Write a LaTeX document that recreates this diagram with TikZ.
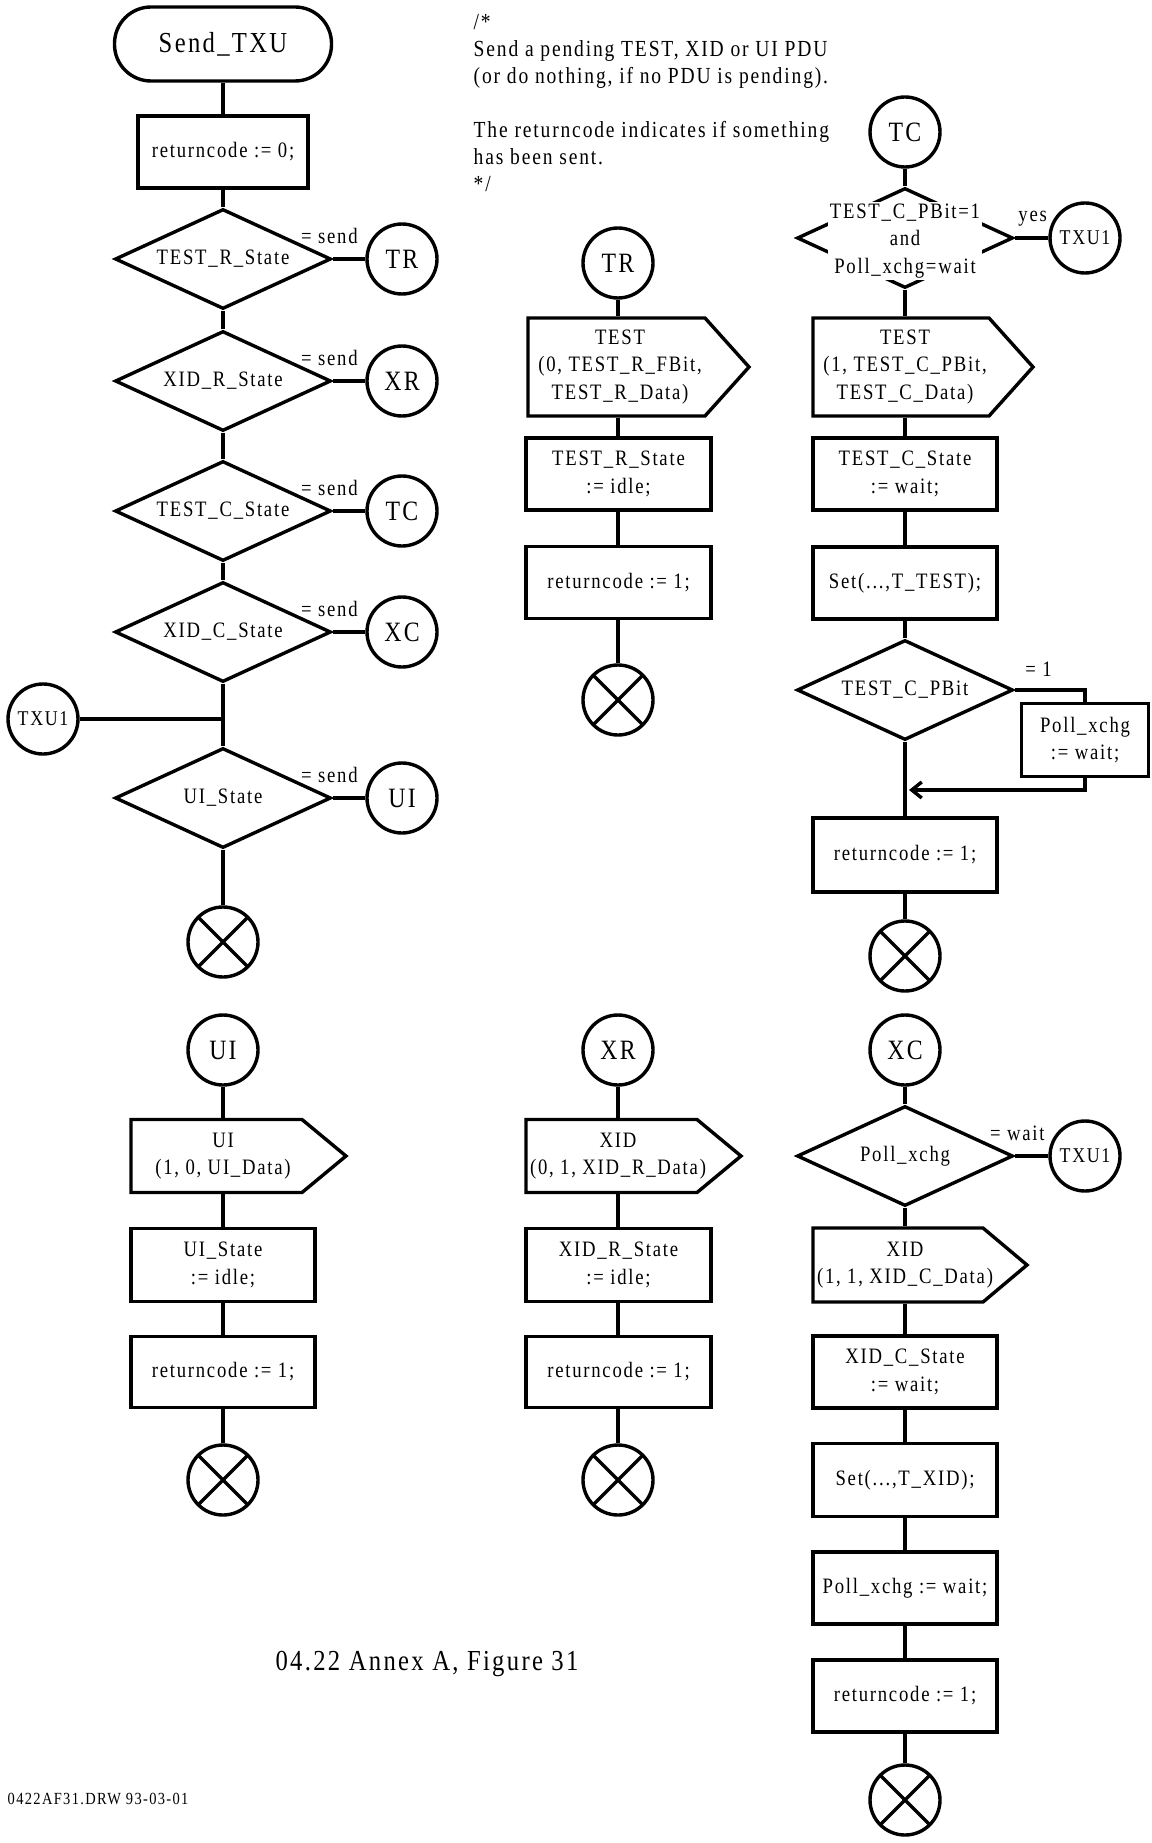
\documentclass[tikz,border=0pt]{standalone}
\usepackage{fontspec}
\setmainfont{Liberation Serif}[FakeStretch=0.85,LetterSpace=8]
\usetikzlibrary{shapes.geometric,arrows.meta}

\begin{document}
\begin{tikzpicture}[x=1pt, y=-1pt, line width=3.4pt,
    txt/.style={font=\fontsize{22}{27.5}\selectfont, align=center, inner sep=0pt},
    term/.style={txt, draw, rounded corners=36.5pt, minimum width=217pt, minimum height=74pt, font=\fontsize{29}{34}\selectfont},
    box/.style={txt, draw, minimum width=184pt, minimum height=72pt},
    decide/.style={txt, draw, diamond, aspect=2.16, minimum width=216pt, minimum height=100pt},
    conn/.style={txt, draw, circle, minimum size=70pt, font=\fontsize{28}{32}\selectfont},
    txu/.style={conn, font=\fontsize{21}{25}\selectfont},
    endsym/.style={draw, circle, minimum size=70pt, path picture={
        \draw (path picture bounding box.north west) -- (path picture bounding box.south east)
              (path picture bounding box.north east) -- (path picture bounding box.south west);}},
    sig/.style 2 args={txt, minimum height=#2, append after command={\pgfextra{
        \draw ([xshift=-92pt,yshift=#2/2]\tikzlastnode.center) -- ([xshift=#1,yshift=#2/2]\tikzlastnode.center)
           -- ([xshift=#1+44pt]\tikzlastnode.center) -- ([xshift=#1,yshift=-#2/2]\tikzlastnode.center)
           -- ([xshift=-92pt,yshift=-#2/2]\tikzlastnode.center) -- cycle;}}},
    lbl/.style={font=\fontsize{22}{26}\selectfont, inner sep=2pt},
    arr/.style={-{Straight Barb[length=10pt,width=16pt]}}
]
\useasboundingbox (0,0) rectangle (1151,1843);

% main routine Send_TXU
\node[term] (start) at (223,44) {Send\_TXU};
\node[box, minimum width=170pt] (rc0) at (223,152) {returncode := 0;};
\node[decide] (qtr) at (223,259) {TEST\_R\_State};
\node[decide] (qxr) at (223,381) {XID\_R\_State};
\node[decide] (qtc) at (223,511) {TEST\_C\_State};
\node[decide] (qxc) at (223,632) {XID\_C\_State};
\node[decide] (qui) at (223,798) {UI\_State};
\node[endsym] (end1) at (223,942) {};
\node[conn] (ctr1) at (402,259) {TR};
\node[conn] (cxr1) at (402,381) {XR};
\node[conn] (ctc1) at (402,511) {TC};
\node[conn] (cxc1) at (402,632) {XC};
\node[conn] (cui1) at (402,798) {UI};
\node[txu] (txu1a) at (43,719) {TXU1};

\draw (start) -- (rc0) (rc0) -- (qtr) (qtr) -- (qxr) (qxr) -- (qtc) (qtc) -- (qxc) (qxc) -- (qui) (qui) -- (end1);
\foreach \q/\c in {qtr/ctr1, qxr/cxr1, qtc/ctc1, qxc/cxc1, qui/cui1}
    \draw (\q.east) -- node[lbl, pos=0.88, anchor=south east, yshift=12pt] {= send} (\c);
\draw (txu1a) -- (txu1a -| end1);

\node[txt, align=left, anchor=north west, font=\fontsize{23}{27}\selectfont] (note) at (472,13)
    {/*\\Send a pending TEST, XID or UI PDU\\(or do nothing, if no PDU is pending).\\[27pt]The returncode indicates if something\\has been sent.\\*/};

% TR
\coordinate (colr) at (618,0);
\node[conn] (ctr2) at (618,263) {TR};
\node[sig={85pt}{98pt}] (outtr) at (620,367) {TEST\\(0, TEST\_R\_FBit,\\TEST\_R\_Data)};
\node[box, minimum width=185pt] (sttr) at (618.5,474) {TEST\_R\_State\\:= idle;};
\node[box, minimum width=185pt] (rctr) at (618.5,582.5) {returncode := 1;};
\node[endsym] (endtr) at (618,700) {};
\foreach \a/\b in {ctr2/outtr, outtr/sttr, sttr/rctr, rctr/endtr}
    \draw (colr |- \a.south) -- (colr |- \b.north);

% TC
\coordinate (colc) at (905,0);
\node[conn] (ctc2) at (905,132) {TC};
\node[decide] (qpoll) at (905,238) {};
\node[txt, fill=white, inner sep=2pt, font=\fontsize{22}{27.5}\selectfont] (qpolltxt) at (905,241)
    {TEST\_C\_PBit=1\\and\\Poll\_xchg=wait};
\node[txu] (txu1b) at (1085,238) {TXU1};
\node[sig={84pt}{98pt}] (outtc) at (905,367) {TEST\\(1, TEST\_C\_PBit,\\TEST\_C\_Data)};
\node[box] (sttc) at (905,474) {TEST\_C\_State\\:= wait;};
\node[box] (settc) at (905,583) {Set(...,T\_TEST);};
\node[decide] (qpbit) at (905,690) {TEST\_C\_PBit};
\node[box, minimum width=127pt, minimum height=73pt] (pxset) at (1085,740) {Poll\_xchg\\:= wait;};
\coordinate (jtc) at (909,790);
\node[box, minimum height=74pt] (rctc) at (905,855) {returncode := 1;};
\node[endsym] (endtc) at (905,956) {};
\foreach \a/\b in {ctc2/qpoll, qpoll/outtc, outtc/sttc, sttc/settc, settc/qpbit, qpbit/rctc, rctc/endtc}
    \draw (colc |- \a.south) -- (colc |- \b.north);
\draw (qpoll.east) -- node[lbl, pos=0, anchor=south west, yshift=8pt] {yes} (txu1b);
\draw (qpbit.east) -| node[lbl, pos=0.05, anchor=south west, yshift=10pt] {= 1} (pxset.north);
\draw[arr] (pxset.south) |- (jtc);

% UI
\coordinate (colu) at (223,0);
\node[conn] (cui2) at (223,1050) {UI};
\node[sig={79pt}{73pt}] (outui) at (223,1156) {UI\\(1, 0, UI\_Data)};
\node[box, minimum height=73pt] (stui) at (223,1265) {UI\_State\\:= idle;};
\node[box, minimum height=71pt] (rcui) at (223,1372) {returncode := 1;};
\node[endsym] (endui) at (223,1480) {};
\foreach \a/\b in {cui2/outui, outui/stui, stui/rcui, rcui/endui}
    \draw (colu |- \a.south) -- (colu |- \b.north);

% XR
\node[conn] (cxr2) at (618,1050) {XR};
\node[sig={79pt}{73pt}, xshift=0pt] (outxr) at (618,1156) {XID\\(0, 1, XID\_R\_Data)};
\node[box, minimum width=185pt, minimum height=73pt] (stxr) at (618.5,1265) {XID\_R\_State\\:= idle;};
\node[box, minimum width=185pt, minimum height=71pt] (rcxr) at (618.5,1372) {returncode := 1;};
\node[endsym] (endxr) at (618,1480) {};
\foreach \a/\b in {cxr2/outxr, outxr/stxr, stxr/rcxr, rcxr/endxr}
    \draw (colr |- \a.south) -- (colr |- \b.north);

% XC
\node[conn] (cxc2) at (905,1050) {XC};
\node[decide] (qpx) at (905,1156) {Poll\_xchg};
\node[txu] (txu1c) at (1085,1156) {TXU1};
\node[sig={78pt}{74pt}] (outxc) at (905,1265) {XID\\(1, 1, XID\_C\_Data)};
\node[box] (stxc) at (905,1372) {XID\_C\_State\\:= wait;};
\node[box, minimum height=73pt] (setxc) at (905,1480) {Set(...,T\_XID);};
\node[box] (pxxc) at (905,1588) {Poll\_xchg := wait;};
\node[box] (rcxc) at (905,1696) {returncode := 1;};
\node[endsym] (endxc) at (905,1800) {};
\foreach \a/\b in {cxc2/qpx, qpx/outxc, outxc/stxc, stxc/setxc, setxc/pxxc, pxxc/rcxc, rcxc/endxc}
    \draw (colc |- \a.south) -- (colc |- \b.north);
\draw (qpx.east) -- node[lbl, pos=1, anchor=south east, yshift=12pt] {= wait} (txu1c);

\node[txt, font=\fontsize{29}{33}\selectfont] (caption) at (427,1664) {04.22 Annex A, Figure 31};
\node[txt, anchor=west, font=\fontsize{17}{20}\selectfont] (drwfile) at (6,1799) {0422AF31.DRW 93-03-01};
\end{tikzpicture}
\end{document}
